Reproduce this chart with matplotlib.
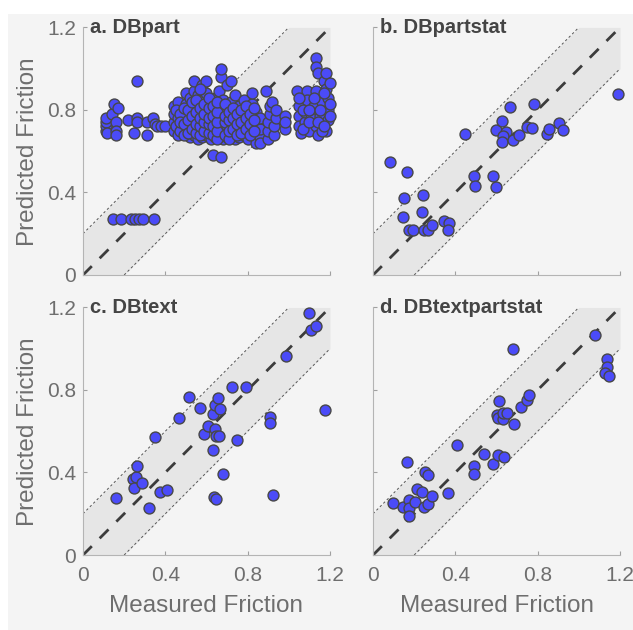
import matplotlib
matplotlib.use('Agg')
import matplotlib.pyplot as plt
import numpy as np
from matplotlib.patches import Rectangle

plt.rcParams['font.family'] = ['Liberation Sans', 'DejaVu Sans']

# a. DBpart  (measured, predicted)
a_x = [0.11, 0.11, 0.11, 0.11, 0.115, 0.14, 0.15, 0.17, 0.16, 0.16, 0.16, 0.22, 0.26, 0.26, 0.26, 0.25,
       0.31, 0.31, 0.34, 0.35, 0.36, 0.38, 0.40,
       0.146, 0.186, 0.235, 0.251, 0.27, 0.292, 0.344,
       0.44, 0.44, 0.44, 0.44,
       0.46, 0.46, 0.46, 0.46, 0.46,
       0.48, 0.48, 0.48,
       0.50, 0.50, 0.50, 0.50,
       0.52, 0.52, 0.52, 0.52, 0.52,
       0.54, 0.54, 0.54, 0.54, 0.54, 0.54,
       0.56, 0.56, 0.56, 0.56, 0.56, 0.56,
       0.58, 0.58, 0.58, 0.58, 0.58, 0.58,
       0.60, 0.60, 0.60, 0.60, 0.60, 0.60,
       0.62, 0.62, 0.62, 0.62, 0.62,
       0.64, 0.64, 0.64, 0.64, 0.64, 0.63,
       0.66, 0.66, 0.66, 0.66, 0.66,
       0.67, 0.67, 0.67, 0.67,
       0.68, 0.68, 0.68, 0.68,
       0.70, 0.70, 0.70, 0.70, 0.70,
       0.72, 0.72, 0.72, 0.72, 0.72,
       0.74, 0.74, 0.74, 0.74, 0.74,
       0.76, 0.76, 0.76, 0.76,
       0.78, 0.78, 0.78, 0.78,
       0.80, 0.80, 0.80, 0.80,
       0.82, 0.82, 0.82, 0.82, 0.82,
       0.84, 0.84, 0.84, 0.84,
       0.86, 0.86, 0.86, 0.86,
       0.89, 0.90, 0.90, 0.90, 0.91, 0.91, 0.92, 0.93, 0.93, 0.94, 0.94,
       0.98, 0.98, 0.98,
       1.04, 1.05, 1.05, 1.05, 1.06, 1.08, 1.08, 1.09, 1.09, 1.10, 1.11, 1.12, 1.13, 1.13,
       1.13, 1.14, 1.13, 1.14, 1.15, 1.16, 1.17, 1.18, 1.18, 1.18, 1.19, 1.19, 1.19, 1.20,
       1.16, 1.12,
       0.45, 0.45, 0.47, 0.47, 0.47, 0.49, 0.49, 0.49, 0.51, 0.51, 0.51, 0.53, 0.53, 0.53,
       0.55, 0.55, 0.55, 0.55, 0.57, 0.57, 0.57, 0.57, 0.57, 0.59, 0.59, 0.59, 0.59,
       0.61, 0.61, 0.61, 0.61, 0.61, 0.63, 0.63, 0.63, 0.63, 0.65, 0.65, 0.65, 0.65, 0.65,
       0.69, 0.69, 0.69, 0.69, 0.71, 0.71, 0.71, 0.71, 0.73, 0.73, 0.73, 0.75, 0.75, 0.75,
       0.77, 0.77, 0.77, 0.79, 0.79, 0.79, 0.81, 0.81, 0.81, 0.83, 0.83, 0.83,
       1.05, 1.07, 1.07, 1.10, 1.10, 1.14, 1.15, 1.17, 1.17, 1.20, 1.20]
a_y = [0.70, 0.72, 0.74, 0.76, 0.69, 0.78, 0.83, 0.81, 0.74, 0.70, 0.68, 0.75, 0.94, 0.76, 0.74, 0.69,
       0.74, 0.68, 0.76, 0.73, 0.72, 0.72, 0.72,
       0.27, 0.27, 0.27, 0.27, 0.27, 0.27, 0.27,
       0.70, 0.74, 0.78, 0.82,
       0.68, 0.72, 0.76, 0.80, 0.84,
       0.70, 0.75, 0.79,
       0.72, 0.77, 0.83, 0.88,
       0.67, 0.70, 0.74, 0.79, 0.86,
       0.68, 0.72, 0.76, 0.81, 0.89, 0.94,
       0.66, 0.70, 0.74, 0.78, 0.83, 0.87,
       0.67, 0.71, 0.75, 0.80, 0.85, 0.92,
       0.68, 0.72, 0.77, 0.82, 0.88, 0.94,
       0.66, 0.70, 0.74, 0.79, 0.84,
       0.67, 0.71, 0.75, 0.80, 0.86, 0.58,
       0.68, 0.72, 0.77, 0.82, 0.89,
       0.96, 1.00, 0.57, 0.74,
       0.66, 0.70, 0.79, 0.85,
       0.67, 0.72, 0.76, 0.81, 0.92,
       0.68, 0.73, 0.78, 0.84, 0.94,
       0.66, 0.70, 0.75, 0.80, 0.87,
       0.67, 0.71, 0.76, 0.82,
       0.68, 0.73, 0.78, 0.85,
       0.66, 0.70, 0.75, 0.80,
       0.68, 0.72, 0.77, 0.83, 0.88,
       0.64, 0.70, 0.74, 0.79,
       0.67, 0.71, 0.76, 0.64,
       0.89, 0.66, 0.70, 0.74, 0.78, 0.82, 0.84, 0.68, 0.72, 0.76, 0.80,
       0.77, 0.71, 0.74,
       0.89, 0.82, 0.77, 0.72, 0.69, 0.74, 0.79, 0.89, 0.85, 0.70, 0.76, 0.82, 0.89, 1.05,
       1.01, 0.98, 0.72, 0.68, 0.77, 0.84, 0.94, 0.98, 0.90, 0.70, 0.80, 0.75, 0.86, 0.93,
       0.70, 0.86,
       0.72, 0.80, 0.70, 0.78, 0.74, 0.68, 0.73, 0.81, 0.69, 0.75, 0.80, 0.71, 0.77, 0.84,
       0.69, 0.73, 0.79, 0.85, 0.68, 0.72, 0.76, 0.81, 0.90, 0.70, 0.74, 0.78, 0.83,
       0.69, 0.73, 0.76, 0.81, 0.86, 0.68, 0.72, 0.77, 0.82, 0.66, 0.70, 0.74, 0.79, 0.84,
       0.68, 0.74, 0.77, 0.83, 0.66, 0.70, 0.75, 0.79, 0.71, 0.76, 0.81, 0.68, 0.73, 0.78,
       0.69, 0.74, 0.80, 0.71, 0.76, 0.82, 0.68, 0.73, 0.78, 0.70, 0.75, 0.81,
       0.86, 0.71, 0.80, 0.74, 0.80, 0.74, 0.80, 0.72, 0.88, 0.77, 0.83]

# b. DBpartstat
b_x = [0.083, 0.164, 0.151, 0.245, 0.144, 0.240, 0.177, 0.193, 0.248, 0.269, 0.285, 0.345, 0.371,
       0.366, 0.447, 0.491, 0.496, 0.585, 0.596, 0.596, 0.625, 0.645, 0.630, 0.628, 0.666, 0.682,
       0.709, 0.747, 0.774, 0.784, 0.844, 0.857, 0.905, 0.921, 1.189]
b_y = [0.549, 0.501, 0.371, 0.388, 0.283, 0.307, 0.218, 0.218, 0.218, 0.218, 0.242, 0.263, 0.254,
       0.218, 0.682, 0.481, 0.433, 0.481, 0.428, 0.703, 0.746, 0.694, 0.673, 0.646, 0.816, 0.654,
       0.678, 0.719, 0.714, 0.827, 0.682, 0.706, 0.738, 0.703, 0.877]

# c. DBtext
c_x = [0.162, 0.243, 0.259, 0.246, 0.264, 0.289, 0.319, 0.349, 0.373, 0.409, 0.465, 0.514, 0.568,
       0.587, 0.608, 0.632, 0.632, 0.641, 0.657, 0.668, 0.641, 0.645, 0.662, 0.636, 0.646, 0.678,
       0.726, 0.749, 0.791, 0.911, 0.911, 0.924, 0.984, 1.098, 1.106, 1.130, 1.176]
c_y = [0.276, 0.370, 0.378, 0.324, 0.430, 0.349, 0.227, 0.571, 0.305, 0.316, 0.662, 0.767, 0.714,
       0.587, 0.624, 0.511, 0.684, 0.725, 0.762, 0.709, 0.611, 0.576, 0.576, 0.281, 0.272, 0.392,
       0.814, 0.559, 0.814, 0.670, 0.641, 0.289, 0.965, 1.171, 1.090, 1.111, 0.702]

# d. DBtextpartstat
d_x = [0.096, 0.144, 0.167, 0.177, 0.177, 0.177, 0.204, 0.212, 0.240, 0.253, 0.269, 0.249, 0.269,
       0.288, 0.366, 0.406, 0.492, 0.492, 0.539, 0.581, 0.609, 0.638, 0.614, 0.601, 0.609, 0.633,
       0.633, 0.649, 0.687, 0.682, 0.719, 0.747, 0.760, 1.079, 1.135, 1.138, 1.127, 1.145]
d_y = [0.251, 0.235, 0.449, 0.268, 0.227, 0.190, 0.256, 0.319, 0.305, 0.401, 0.386, 0.235, 0.246,
       0.287, 0.300, 0.535, 0.430, 0.392, 0.491, 0.443, 0.483, 0.474, 0.746, 0.681, 0.665, 0.660,
       0.686, 0.686, 0.634, 0.997, 0.718, 0.751, 0.778, 1.067, 0.949, 0.913, 0.884, 0.868]

titles = ['a. DBpart', 'b. DBpartstat', 'c. DBtext', 'd. DBtextpartstat']
data = [(a_x, a_y), (b_x, b_y), (c_x, c_y), (d_x, d_y)]
ticks = [0, 0.4, 0.8, 1.2]
tick_labels = ['0', '0.4', '0.8', '1.2']
band = 0.2

fig = plt.figure(figsize=(6.33, 6.30), dpi=100, facecolor='white')
fig.patches.append(Rectangle((8 / 633, 0), 1, 1 - 14 / 630, transform=fig.transFigure,
                             facecolor='#f4f4f4', edgecolor='none', zorder=-10))

W = 0.3902
H = 0.3930
pos = [(0.1311, 0.5635), (0.5893, 0.5635), (0.1311, 0.1190), (0.5893, 0.1190)]
grey = '#6e6e6e'

for i in range(4):
    ax = fig.add_axes([pos[i][0], pos[i][1], W, H])
    ax.set_facecolor('none')
    xs = np.array([0, band, 1.2 - band, 1.2])
    ax.fill_between(xs, np.clip(xs - band, 0, 1.2), np.clip(xs + band, 0, 1.2),
                    color='#e6e6e6', lw=0, zorder=0)
    ax.plot([0, 1.2], [0, 1.2], color='#3c3c3c', lw=2, dashes=(4.5, 4), zorder=1)
    ax.plot([0, 1.2 - band], [band, 1.2], color='#555555', lw=0.7, dashes=(2.5, 2.5), zorder=1)
    ax.plot([band, 1.2], [0, 1.2 - band], color='#555555', lw=0.7, dashes=(2.5, 2.5), zorder=1)
    ax.scatter(data[i][0], data[i][1], s=62, c='#4b4bf8', edgecolors='#474747',
               linewidths=1.0, zorder=3, clip_on=False)
    ax.set_xlim(0, 1.2)
    ax.set_ylim(0, 1.2)
    ax.spines['top'].set_visible(False)
    ax.spines['right'].set_visible(False)
    for s in ['left', 'bottom']:
        ax.spines[s].set_color('#b4b4b4')
        ax.spines[s].set_linewidth(0.8)
    ax.set_xticks(ticks)
    ax.set_yticks(ticks)
    ax.tick_params(direction='in', length=3, color='#a0a0a0', labelcolor=grey,
                   labelsize=15)
    ax.tick_params(axis='x', pad=8)
    ax.tick_params(axis='y', pad=5)
    if i in (0, 2):
        ax.set_yticklabels(tick_labels)
        ax.set_ylabel('Predicted Friction', fontsize=17.5, color=grey, labelpad=6)
    else:
        ax.set_yticklabels([])
    if i in (2, 3):
        ax.set_xticklabels(tick_labels)
        ax.set_xlabel('Measured Friction', fontsize=17.5, color=grey, labelpad=7)
    else:
        ax.set_xticklabels([])
    ax.text(0.03, 1.0, titles[i], transform=ax.transAxes, fontsize=14.5, fontweight='bold',
            color='#444444', ha='left', va='center', zorder=5)

fig.savefig('out.png', dpi=100, facecolor='white')
